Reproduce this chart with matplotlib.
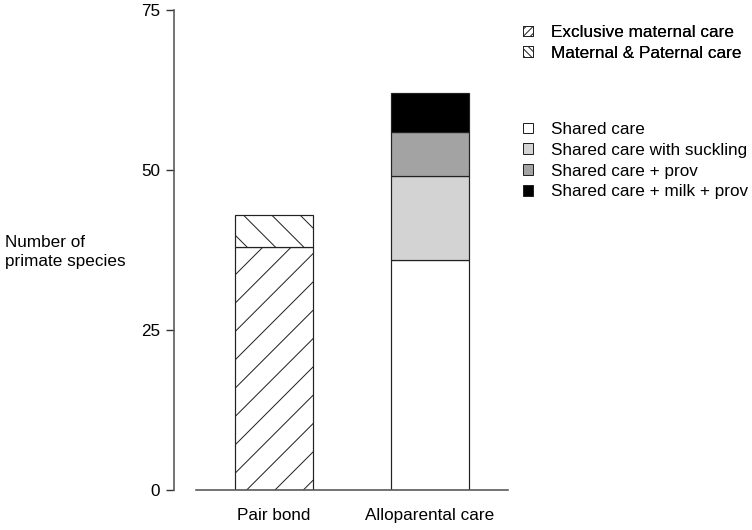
import numpy as np
import matplotlib
matplotlib.use('Agg')
import matplotlib.pyplot as plt
from matplotlib.patches import Patch

# Data
groups = ['Pair bond', 'Alloparental care']
pair_labels = ['Exclusive maternal care', 'Maternal & Paternal care']
pair_values = [38, 5]
pair_hatches = ['//', '\\\\']
allo_labels = ['Shared care', 'Shared care with suckling', 'Shared care + prov', 'Shared care + milk + prov']
allo_values = [36, 13, 7, 6]
allo_colors = ['white', '#d3d3d3', '#a3a3a3', 'black']

# dpi chosen so hatch spacing matches the reference (~25 px)
dpi = 170
pt = 72 / dpi  # points per pixel

plt.rcParams['font.family'] = ['Liberation Sans', 'DejaVu Sans']
plt.rcParams['hatch.linewidth'] = 1.0 * pt

fs = 17.1 * pt
fig = plt.figure(figsize=(752 / dpi, 530 / dpi), dpi=dpi)
ax = fig.add_axes([196 / 752, 1 - 490 / 530, 312 / 752, 480 / 530])

# Pair bond stack (hatched)
bottom = 0
for v, h in zip(pair_values, pair_hatches):
    ax.bar(0, v, width=0.5, bottom=bottom, color='white', edgecolor='#222222',
           hatch=h, linewidth=1.2 * pt)
    bottom += v

# Alloparental stack (grey scale)
bottom = 0
for v, c in zip(allo_values, allo_colors):
    ax.bar(1, v, width=0.5, bottom=bottom, color=c, edgecolor='#222222', linewidth=1.2 * pt)
    bottom += v

ax.set_xlim(-0.5, 1.5)
ax.set_ylim(0, 75)
ax.set_yticks([0, 25, 50, 75])
ax.set_xticks([0, 1])
ax.set_xticklabels(groups, fontsize=fs)
ax.tick_params(axis='x', length=0, pad=18 * pt)
ax.tick_params(axis='y', length=8 * pt, width=1.4 * pt, labelsize=fs, pad=6 * pt, color='#333333')

for s in ['top', 'right']:
    ax.spines[s].set_visible(False)
ax.spines['left'].set_position(('outward', 22 * pt))
ax.spines['left'].set_linewidth(1.6 * pt)
ax.spines['left'].set_color('#555555')
ax.spines['bottom'].set_linewidth(1.6 * pt)
ax.spines['bottom'].set_color('#555555')

fig.text(5 / 752, 1 - 252 / 530, 'Number of\nprimate species', fontsize=fs,
         ha='left', va='center', linespacing=1.4)

# Legends
h1 = [Patch(facecolor='white', edgecolor='#222222', hatch=h * 4, linewidth=1.0 * pt) for h in pair_hatches]
leg1 = fig.legend(h1, pair_labels, loc='upper left', bbox_to_anchor=(523 / 752, 1 - 25 / 530),
                  frameon=False, fontsize=fs, handlelength=0.6, handleheight=0.6,
                  handletextpad=1.05, labelspacing=0.34, borderpad=0, borderaxespad=0)
h2 = [Patch(facecolor=c, edgecolor='#222222', linewidth=1.0 * pt) for c in allo_colors]
leg2 = fig.legend(h2, allo_labels, loc='upper left', bbox_to_anchor=(523 / 752, 1 - 122 / 530),
                  frameon=False, fontsize=fs, handlelength=0.6, handleheight=0.6,
                  handletextpad=1.05, labelspacing=0.34, borderpad=0, borderaxespad=0)
fig.add_artist(leg1)

fig.savefig('out.png', dpi=dpi)
